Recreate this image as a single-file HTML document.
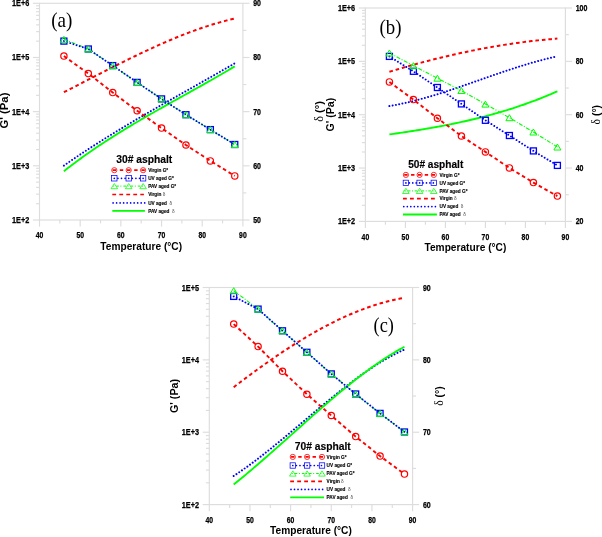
<!DOCTYPE html>
<html><head><meta charset="utf-8"><style>
html,body{margin:0;padding:0;background:#fff;overflow:hidden;}
svg{display:block;will-change:transform;}
</style></head><body>
<svg width="602" height="537" viewBox="0 0 602 537">
<rect width="602" height="537" fill="#fff"/>
<rect x="39.50" y="3.30" width="203.40" height="216.70" fill="none" stroke="#dddddd" stroke-width="1.15"/>
<line x1="32.90" y1="220.00" x2="39.50" y2="220.00" stroke="#dddddd" stroke-width="1.15" />
<line x1="36.10" y1="203.69" x2="39.50" y2="203.69" stroke="#dddddd" stroke-width="1.15" />
<line x1="36.10" y1="194.15" x2="39.50" y2="194.15" stroke="#dddddd" stroke-width="1.15" />
<line x1="36.10" y1="187.38" x2="39.50" y2="187.38" stroke="#dddddd" stroke-width="1.15" />
<line x1="36.10" y1="182.13" x2="39.50" y2="182.13" stroke="#dddddd" stroke-width="1.15" />
<line x1="36.10" y1="177.84" x2="39.50" y2="177.84" stroke="#dddddd" stroke-width="1.15" />
<line x1="36.10" y1="174.22" x2="39.50" y2="174.22" stroke="#dddddd" stroke-width="1.15" />
<line x1="36.10" y1="171.08" x2="39.50" y2="171.08" stroke="#dddddd" stroke-width="1.15" />
<line x1="36.10" y1="168.30" x2="39.50" y2="168.30" stroke="#dddddd" stroke-width="1.15" />
<line x1="32.90" y1="165.82" x2="39.50" y2="165.82" stroke="#dddddd" stroke-width="1.15" />
<line x1="36.10" y1="149.52" x2="39.50" y2="149.52" stroke="#dddddd" stroke-width="1.15" />
<line x1="36.10" y1="139.98" x2="39.50" y2="139.98" stroke="#dddddd" stroke-width="1.15" />
<line x1="36.10" y1="133.21" x2="39.50" y2="133.21" stroke="#dddddd" stroke-width="1.15" />
<line x1="36.10" y1="127.96" x2="39.50" y2="127.96" stroke="#dddddd" stroke-width="1.15" />
<line x1="36.10" y1="123.67" x2="39.50" y2="123.67" stroke="#dddddd" stroke-width="1.15" />
<line x1="36.10" y1="120.04" x2="39.50" y2="120.04" stroke="#dddddd" stroke-width="1.15" />
<line x1="36.10" y1="116.90" x2="39.50" y2="116.90" stroke="#dddddd" stroke-width="1.15" />
<line x1="36.10" y1="114.13" x2="39.50" y2="114.13" stroke="#dddddd" stroke-width="1.15" />
<line x1="32.90" y1="111.65" x2="39.50" y2="111.65" stroke="#dddddd" stroke-width="1.15" />
<line x1="36.10" y1="95.34" x2="39.50" y2="95.34" stroke="#dddddd" stroke-width="1.15" />
<line x1="36.10" y1="85.80" x2="39.50" y2="85.80" stroke="#dddddd" stroke-width="1.15" />
<line x1="36.10" y1="79.03" x2="39.50" y2="79.03" stroke="#dddddd" stroke-width="1.15" />
<line x1="36.10" y1="73.78" x2="39.50" y2="73.78" stroke="#dddddd" stroke-width="1.15" />
<line x1="36.10" y1="69.49" x2="39.50" y2="69.49" stroke="#dddddd" stroke-width="1.15" />
<line x1="36.10" y1="65.87" x2="39.50" y2="65.87" stroke="#dddddd" stroke-width="1.15" />
<line x1="36.10" y1="62.73" x2="39.50" y2="62.73" stroke="#dddddd" stroke-width="1.15" />
<line x1="36.10" y1="59.95" x2="39.50" y2="59.95" stroke="#dddddd" stroke-width="1.15" />
<line x1="32.90" y1="57.48" x2="39.50" y2="57.48" stroke="#dddddd" stroke-width="1.15" />
<line x1="36.10" y1="41.17" x2="39.50" y2="41.17" stroke="#dddddd" stroke-width="1.15" />
<line x1="36.10" y1="31.63" x2="39.50" y2="31.63" stroke="#dddddd" stroke-width="1.15" />
<line x1="36.10" y1="24.86" x2="39.50" y2="24.86" stroke="#dddddd" stroke-width="1.15" />
<line x1="36.10" y1="19.61" x2="39.50" y2="19.61" stroke="#dddddd" stroke-width="1.15" />
<line x1="36.10" y1="15.32" x2="39.50" y2="15.32" stroke="#dddddd" stroke-width="1.15" />
<line x1="36.10" y1="11.69" x2="39.50" y2="11.69" stroke="#dddddd" stroke-width="1.15" />
<line x1="36.10" y1="8.55" x2="39.50" y2="8.55" stroke="#dddddd" stroke-width="1.15" />
<line x1="36.10" y1="5.78" x2="39.50" y2="5.78" stroke="#dddddd" stroke-width="1.15" />
<line x1="32.90" y1="3.30" x2="39.50" y2="3.30" stroke="#dddddd" stroke-width="1.15" />
<line x1="242.90" y1="220.00" x2="249.50" y2="220.00" stroke="#dddddd" stroke-width="1.15" />
<line x1="242.90" y1="192.91" x2="246.30" y2="192.91" stroke="#dddddd" stroke-width="1.15" />
<line x1="242.90" y1="165.82" x2="249.50" y2="165.82" stroke="#dddddd" stroke-width="1.15" />
<line x1="242.90" y1="138.74" x2="246.30" y2="138.74" stroke="#dddddd" stroke-width="1.15" />
<line x1="242.90" y1="111.65" x2="249.50" y2="111.65" stroke="#dddddd" stroke-width="1.15" />
<line x1="242.90" y1="84.56" x2="246.30" y2="84.56" stroke="#dddddd" stroke-width="1.15" />
<line x1="242.90" y1="57.48" x2="249.50" y2="57.48" stroke="#dddddd" stroke-width="1.15" />
<line x1="242.90" y1="30.39" x2="246.30" y2="30.39" stroke="#dddddd" stroke-width="1.15" />
<line x1="242.90" y1="3.30" x2="249.50" y2="3.30" stroke="#dddddd" stroke-width="1.15" />
<line x1="39.50" y1="220.00" x2="39.50" y2="226.60" stroke="#dddddd" stroke-width="1.15" />
<line x1="59.84" y1="220.00" x2="59.84" y2="223.40" stroke="#dddddd" stroke-width="1.15" />
<line x1="80.18" y1="220.00" x2="80.18" y2="226.60" stroke="#dddddd" stroke-width="1.15" />
<line x1="100.52" y1="220.00" x2="100.52" y2="223.40" stroke="#dddddd" stroke-width="1.15" />
<line x1="120.86" y1="220.00" x2="120.86" y2="226.60" stroke="#dddddd" stroke-width="1.15" />
<line x1="141.20" y1="220.00" x2="141.20" y2="223.40" stroke="#dddddd" stroke-width="1.15" />
<line x1="161.54" y1="220.00" x2="161.54" y2="226.60" stroke="#dddddd" stroke-width="1.15" />
<line x1="181.88" y1="220.00" x2="181.88" y2="223.40" stroke="#dddddd" stroke-width="1.15" />
<line x1="202.22" y1="220.00" x2="202.22" y2="226.60" stroke="#dddddd" stroke-width="1.15" />
<line x1="222.56" y1="220.00" x2="222.56" y2="223.40" stroke="#dddddd" stroke-width="1.15" />
<line x1="242.90" y1="220.00" x2="242.90" y2="226.60" stroke="#dddddd" stroke-width="1.15" />
<path d="M63.91,92.22 L66.07,91.11 L68.23,90.00 L70.40,88.89 L72.56,87.78 L74.72,86.67 L76.88,85.55 L79.05,84.44 L81.21,83.32 L83.37,82.21 L85.54,81.09 L87.70,79.98 L89.86,78.86 L92.02,77.75 L94.19,76.63 L96.35,75.52 L98.51,74.41 L100.67,73.30 L102.84,72.19 L105.00,71.09 L107.16,69.98 L109.33,68.88 L111.49,67.79 L113.65,66.69 L115.81,65.60 L117.98,64.52 L120.14,63.43 L122.30,62.35 L124.46,61.28 L126.63,60.21 L128.79,59.15 L130.95,58.09 L133.12,57.04 L135.28,55.99 L137.44,54.95 L139.60,53.91 L141.77,52.88 L143.93,51.86 L146.09,50.85 L148.25,49.84 L150.42,48.84 L152.58,47.85 L154.74,46.86 L156.91,45.89 L159.07,44.92 L161.23,43.96 L163.39,43.01 L165.56,42.08 L167.72,41.15 L169.88,40.23 L172.04,39.32 L174.21,38.42 L176.37,37.53 L178.53,36.65 L180.70,35.78 L182.86,34.93 L185.02,34.08 L187.18,33.25 L189.35,32.43 L191.51,31.63 L193.67,30.83 L195.83,30.05 L198.00,29.28 L200.16,28.53 L202.32,27.79 L204.49,27.06 L206.65,26.35 L208.81,25.65 L210.97,24.97 L213.14,24.30 L215.30,23.65 L217.46,23.01 L219.62,22.39 L221.79,21.78 L223.95,21.19 L226.11,20.62 L228.28,20.06 L230.44,19.52 L232.60,19.00 L234.76,18.50" stroke="#ff0000" stroke-width="2" stroke-dasharray="3.6 2.9" fill="none"/>
<path d="M63.91,165.58 L66.07,164.08 L68.23,162.58 L70.40,161.10 L72.56,159.62 L74.72,158.16 L76.88,156.70 L79.05,155.25 L81.21,153.81 L83.37,152.38 L85.54,150.96 L87.70,149.55 L89.86,148.14 L92.02,146.74 L94.19,145.35 L96.35,143.97 L98.51,142.59 L100.67,141.22 L102.84,139.86 L105.00,138.50 L107.16,137.15 L109.33,135.81 L111.49,134.48 L113.65,133.15 L115.81,131.82 L117.98,130.51 L120.14,129.19 L122.30,127.89 L124.46,126.59 L126.63,125.29 L128.79,124.00 L130.95,122.71 L133.12,121.43 L135.28,120.15 L137.44,118.88 L139.60,117.61 L141.77,116.35 L143.93,115.08 L146.09,113.83 L148.25,112.57 L150.42,111.32 L152.58,110.07 L154.74,108.83 L156.91,107.59 L159.07,106.35 L161.23,105.11 L163.39,103.88 L165.56,102.64 L167.72,101.41 L169.88,100.18 L172.04,98.96 L174.21,97.73 L176.37,96.51 L178.53,95.28 L180.70,94.06 L182.86,92.84 L185.02,91.62 L187.18,90.40 L189.35,89.18 L191.51,87.96 L193.67,86.74 L195.83,85.51 L198.00,84.29 L200.16,83.07 L202.32,81.85 L204.49,80.63 L206.65,79.40 L208.81,78.18 L210.97,76.95 L213.14,75.72 L215.30,74.49 L217.46,73.26 L219.62,72.02 L221.79,70.78 L223.95,69.54 L226.11,68.30 L228.28,67.06 L230.44,65.81 L232.60,64.56 L234.76,63.31" stroke="#0000ff" stroke-width="2" stroke-dasharray="0.01 3.3" stroke-linecap="round" fill="none"/>
<path d="M63.91,171.16 L66.07,169.47 L68.23,167.80 L70.40,166.14 L72.56,164.51 L74.72,162.89 L76.88,161.29 L79.05,159.70 L81.21,158.13 L83.37,156.57 L85.54,155.03 L87.70,153.50 L89.86,151.99 L92.02,150.50 L94.19,149.01 L96.35,147.54 L98.51,146.08 L100.67,144.64 L102.84,143.21 L105.00,141.79 L107.16,140.38 L109.33,138.98 L111.49,137.60 L113.65,136.22 L115.81,134.86 L117.98,133.51 L120.14,132.16 L122.30,130.83 L124.46,129.50 L126.63,128.18 L128.79,126.88 L130.95,125.58 L133.12,124.28 L135.28,123.00 L137.44,121.72 L139.60,120.45 L141.77,119.19 L143.93,117.93 L146.09,116.68 L148.25,115.43 L150.42,114.19 L152.58,112.95 L154.74,111.72 L156.91,110.49 L159.07,109.27 L161.23,108.05 L163.39,106.83 L165.56,105.62 L167.72,104.41 L169.88,103.20 L172.04,101.99 L174.21,100.79 L176.37,99.58 L178.53,98.38 L180.70,97.18 L182.86,95.97 L185.02,94.77 L187.18,93.57 L189.35,92.36 L191.51,91.16 L193.67,89.95 L195.83,88.75 L198.00,87.54 L200.16,86.32 L202.32,85.11 L204.49,83.89 L206.65,82.67 L208.81,81.45 L210.97,80.22 L213.14,78.98 L215.30,77.75 L217.46,76.50 L219.62,75.26 L221.79,74.00 L223.95,72.74 L226.11,71.48 L228.28,70.20 L230.44,68.92 L232.60,67.64 L234.76,66.34" stroke="#00ff00" stroke-width="1.9" fill="none"/>
<path d="M63.91,56.10 L88.32,73.60 L112.72,92.60 L137.13,110.70 L161.54,128.10 L185.95,145.00 L210.36,160.90 L234.76,175.90" stroke="#ff0000" stroke-width="1.9" stroke-dasharray="3.6 2.9" fill="none"/>
<path d="M63.91,39.30 L88.32,49.00 L112.72,65.60 L137.13,82.40 L161.54,98.90 L185.95,114.70 L210.36,129.60 L234.76,144.50" stroke="#00ff00" stroke-width="1.1" stroke-dasharray="4 1.6 1 1.6" fill="none"/>
<path d="M63.91,41.10 L88.32,49.00 L112.72,65.60 L137.13,82.40 L161.54,98.90 L185.95,114.70 L210.36,129.60 L234.76,144.50" stroke="#0000ff" stroke-width="1.9" stroke-dasharray="0.01 3.3" stroke-linecap="round" fill="none"/>
<circle cx="63.91" cy="56.10" r="3.15" fill="none" stroke="#ff0000" stroke-width="1.2"/>
<circle cx="88.32" cy="73.60" r="3.15" fill="none" stroke="#ff0000" stroke-width="1.2"/>
<circle cx="112.72" cy="92.60" r="3.15" fill="none" stroke="#ff0000" stroke-width="1.2"/>
<circle cx="137.13" cy="110.70" r="3.15" fill="none" stroke="#ff0000" stroke-width="1.2"/>
<circle cx="161.54" cy="128.10" r="3.15" fill="none" stroke="#ff0000" stroke-width="1.2"/>
<circle cx="185.95" cy="145.00" r="3.15" fill="none" stroke="#ff0000" stroke-width="1.2"/>
<circle cx="210.36" cy="160.90" r="3.15" fill="none" stroke="#ff0000" stroke-width="1.2"/>
<circle cx="234.76" cy="175.90" r="3.15" fill="none" stroke="#ff0000" stroke-width="1.2"/>
<rect x="60.91" y="38.10" width="6.0" height="6.0" fill="none" stroke="#0000ff" stroke-width="1.3"/>
<rect x="85.32" y="46.00" width="6.0" height="6.0" fill="none" stroke="#0000ff" stroke-width="1.3"/>
<rect x="109.72" y="62.60" width="6.0" height="6.0" fill="none" stroke="#0000ff" stroke-width="1.3"/>
<rect x="134.13" y="79.40" width="6.0" height="6.0" fill="none" stroke="#0000ff" stroke-width="1.3"/>
<rect x="158.54" y="95.90" width="6.0" height="6.0" fill="none" stroke="#0000ff" stroke-width="1.3"/>
<rect x="182.95" y="111.70" width="6.0" height="6.0" fill="none" stroke="#0000ff" stroke-width="1.3"/>
<rect x="207.36" y="126.60" width="6.0" height="6.0" fill="none" stroke="#0000ff" stroke-width="1.3"/>
<rect x="231.76" y="141.50" width="6.0" height="6.0" fill="none" stroke="#0000ff" stroke-width="1.3"/>
<path d="M63.91,36.30 L67.41,42.30 L60.41,42.30 Z" fill="none" stroke="#00ff00" stroke-width="1.0"/>
<path d="M88.32,46.00 L91.82,52.00 L84.82,52.00 Z" fill="none" stroke="#00ff00" stroke-width="1.0"/>
<path d="M112.72,62.60 L116.22,68.60 L109.22,68.60 Z" fill="none" stroke="#00ff00" stroke-width="1.0"/>
<path d="M137.13,79.40 L140.63,85.40 L133.63,85.40 Z" fill="none" stroke="#00ff00" stroke-width="1.0"/>
<path d="M161.54,95.90 L165.04,101.90 L158.04,101.90 Z" fill="none" stroke="#00ff00" stroke-width="1.0"/>
<path d="M185.95,111.70 L189.45,117.70 L182.45,117.70 Z" fill="none" stroke="#00ff00" stroke-width="1.0"/>
<path d="M210.36,126.60 L213.86,132.60 L206.86,132.60 Z" fill="none" stroke="#00ff00" stroke-width="1.0"/>
<path d="M234.76,141.50 L238.26,147.50 L231.26,147.50 Z" fill="none" stroke="#00ff00" stroke-width="1.0"/>
<text x="116.20" y="162.60" font-family="Liberation Sans" font-size="10.3" font-weight="bold" text-anchor="start" fill="#000" stroke="#000" stroke-width="0.15" textLength="56.10" lengthAdjust="spacingAndGlyphs" >30# asphalt</text>
<line x1="112.30" y1="170.20" x2="145.10" y2="170.20" stroke="#ff0000" stroke-width="1.7" stroke-dasharray="3.4 3.80" stroke-dashoffset="-0.30"/>
<circle cx="114.30" cy="170.20" r="2.6" fill="none" stroke="#ff0000" stroke-width="0.8"/>
<circle cx="128.70" cy="170.20" r="2.6" fill="none" stroke="#ff0000" stroke-width="0.8"/>
<circle cx="143.10" cy="170.20" r="2.6" fill="none" stroke="#ff0000" stroke-width="0.8"/>
<text x="148.20" y="171.90" font-family="Liberation Sans" font-size="4.7" font-weight="bold" text-anchor="start" fill="#000" stroke="#000" stroke-width="0.12" >Virgin G*</text>
<line x1="112.90" y1="178.30" x2="145.10" y2="178.30" stroke="#0000ff" stroke-width="1.7" stroke-linecap="round" stroke-dasharray="0.01 3.59" stroke-dashoffset="2.20"/>
<rect x="111.60" y="175.60" width="5.4" height="5.4" fill="none" stroke="#0000ff" stroke-width="0.75"/>
<rect x="126.00" y="175.60" width="5.4" height="5.4" fill="none" stroke="#0000ff" stroke-width="0.75"/>
<rect x="140.40" y="175.60" width="5.4" height="5.4" fill="none" stroke="#0000ff" stroke-width="0.75"/>
<text x="148.20" y="180.00" font-family="Liberation Sans" font-size="4.7" font-weight="bold" text-anchor="start" fill="#000" stroke="#000" stroke-width="0.12" >UV aged G*</text>
<line x1="112.30" y1="186.10" x2="145.10" y2="186.10" stroke="#00ff00" stroke-width="1.0" stroke-dasharray="2.6 1.6 1 2.00" stroke-dashoffset="-3.90"/>
<path d="M114.30,183.50 L117.60,188.70 L111.00,188.70 Z" fill="none" stroke="#00ff00" stroke-width="0.75"/>
<path d="M128.70,183.50 L132.00,188.70 L125.40,188.70 Z" fill="none" stroke="#00ff00" stroke-width="0.75"/>
<path d="M143.10,183.50 L146.40,188.70 L139.80,188.70 Z" fill="none" stroke="#00ff00" stroke-width="0.75"/>
<text x="148.20" y="187.80" font-family="Liberation Sans" font-size="4.7" font-weight="bold" text-anchor="start" fill="#000" stroke="#000" stroke-width="0.12" >PAV aged G*</text>
<line x1="112.30" y1="194.50" x2="143.90" y2="194.50" stroke="#ff0000" stroke-width="1.7" stroke-dasharray="3.8 3.2"/>
<text x="148.20" y="196.20" font-family="Liberation Sans" font-size="4.7" font-weight="bold" stroke="#000" stroke-width="0.12">Virgin <tspan font-weight="normal" fill="#444" stroke="none">δ</tspan></text>
<line x1="113.10" y1="202.90" x2="144.90" y2="202.90" stroke="#0000ff" stroke-width="1.7" stroke-linecap="round" stroke-dasharray="0.01 3.5"/>
<text x="148.20" y="204.60" font-family="Liberation Sans" font-size="4.7" font-weight="bold" stroke="#000" stroke-width="0.12">UV aged  <tspan font-weight="normal" fill="#444" stroke="none">δ</tspan></text>
<line x1="112.30" y1="210.90" x2="144.90" y2="210.90" stroke="#00ff00" stroke-width="1.8"/>
<text x="148.20" y="212.60" font-family="Liberation Sans" font-size="4.7" font-weight="bold" stroke="#000" stroke-width="0.12">PAV aged  <tspan font-weight="normal" fill="#444" stroke="none">δ</tspan></text>
<text x="29.20" y="223.00" font-family="Liberation Sans" font-size="8.4" font-weight="bold" text-anchor="end" fill="#000" stroke="#000" stroke-width="0.25" textLength="17.20" lengthAdjust="spacingAndGlyphs" >1E+2</text>
<text x="29.20" y="168.82" font-family="Liberation Sans" font-size="8.4" font-weight="bold" text-anchor="end" fill="#000" stroke="#000" stroke-width="0.25" textLength="17.20" lengthAdjust="spacingAndGlyphs" >1E+3</text>
<text x="29.20" y="114.65" font-family="Liberation Sans" font-size="8.4" font-weight="bold" text-anchor="end" fill="#000" stroke="#000" stroke-width="0.25" textLength="17.20" lengthAdjust="spacingAndGlyphs" >1E+4</text>
<text x="29.20" y="60.48" font-family="Liberation Sans" font-size="8.4" font-weight="bold" text-anchor="end" fill="#000" stroke="#000" stroke-width="0.25" textLength="17.20" lengthAdjust="spacingAndGlyphs" >1E+5</text>
<text x="29.20" y="6.30" font-family="Liberation Sans" font-size="8.4" font-weight="bold" text-anchor="end" fill="#000" stroke="#000" stroke-width="0.25" textLength="17.20" lengthAdjust="spacingAndGlyphs" >1E+6</text>
<text x="253.20" y="223.00" font-family="Liberation Sans" font-size="8.4" font-weight="bold" text-anchor="start" fill="#000" stroke="#000" stroke-width="0.25" textLength="7.80" lengthAdjust="spacingAndGlyphs" >50</text>
<text x="253.20" y="168.82" font-family="Liberation Sans" font-size="8.4" font-weight="bold" text-anchor="start" fill="#000" stroke="#000" stroke-width="0.25" textLength="7.80" lengthAdjust="spacingAndGlyphs" >60</text>
<text x="253.20" y="114.65" font-family="Liberation Sans" font-size="8.4" font-weight="bold" text-anchor="start" fill="#000" stroke="#000" stroke-width="0.25" textLength="7.80" lengthAdjust="spacingAndGlyphs" >70</text>
<text x="253.20" y="60.48" font-family="Liberation Sans" font-size="8.4" font-weight="bold" text-anchor="start" fill="#000" stroke="#000" stroke-width="0.25" textLength="7.80" lengthAdjust="spacingAndGlyphs" >80</text>
<text x="253.20" y="6.30" font-family="Liberation Sans" font-size="8.4" font-weight="bold" text-anchor="start" fill="#000" stroke="#000" stroke-width="0.25" textLength="7.80" lengthAdjust="spacingAndGlyphs" >90</text>
<text x="39.50" y="238.10" font-family="Liberation Sans" font-size="8.4" font-weight="bold" text-anchor="middle" fill="#000" stroke="#000" stroke-width="0.25" textLength="7.60" lengthAdjust="spacingAndGlyphs" >40</text>
<text x="80.18" y="238.10" font-family="Liberation Sans" font-size="8.4" font-weight="bold" text-anchor="middle" fill="#000" stroke="#000" stroke-width="0.25" textLength="7.60" lengthAdjust="spacingAndGlyphs" >50</text>
<text x="120.86" y="238.10" font-family="Liberation Sans" font-size="8.4" font-weight="bold" text-anchor="middle" fill="#000" stroke="#000" stroke-width="0.25" textLength="7.60" lengthAdjust="spacingAndGlyphs" >60</text>
<text x="161.54" y="238.10" font-family="Liberation Sans" font-size="8.4" font-weight="bold" text-anchor="middle" fill="#000" stroke="#000" stroke-width="0.25" textLength="7.60" lengthAdjust="spacingAndGlyphs" >70</text>
<text x="202.22" y="238.10" font-family="Liberation Sans" font-size="8.4" font-weight="bold" text-anchor="middle" fill="#000" stroke="#000" stroke-width="0.25" textLength="7.60" lengthAdjust="spacingAndGlyphs" >80</text>
<text x="242.90" y="238.10" font-family="Liberation Sans" font-size="8.4" font-weight="bold" text-anchor="middle" fill="#000" stroke="#000" stroke-width="0.25" textLength="7.60" lengthAdjust="spacingAndGlyphs" >90</text>
<text x="141.20" y="249.80" font-family="Liberation Sans" font-size="10.4" font-weight="bold" text-anchor="middle" fill="#000" textLength="81.80" lengthAdjust="spacingAndGlyphs" >Temperature (°C)</text>
<text transform="translate(7.90,110.60) rotate(-90)" x="0" y="0" font-family="Liberation Sans" font-size="10.5" font-weight="bold" text-anchor="middle" textLength="36.00" lengthAdjust="spacingAndGlyphs">G' (Pa)</text>
<text x="51.20" y="27.20" font-family="Liberation Serif" font-size="21" font-weight="normal" text-anchor="start" fill="#000" textLength="21.20" lengthAdjust="spacingAndGlyphs" >(a)</text>
<rect x="365.40" y="8.00" width="200.00" height="213.40" fill="none" stroke="#dddddd" stroke-width="1.15"/>
<line x1="358.80" y1="221.40" x2="365.40" y2="221.40" stroke="#dddddd" stroke-width="1.15" />
<line x1="362.00" y1="205.34" x2="365.40" y2="205.34" stroke="#dddddd" stroke-width="1.15" />
<line x1="362.00" y1="195.95" x2="365.40" y2="195.95" stroke="#dddddd" stroke-width="1.15" />
<line x1="362.00" y1="189.28" x2="365.40" y2="189.28" stroke="#dddddd" stroke-width="1.15" />
<line x1="362.00" y1="184.11" x2="365.40" y2="184.11" stroke="#dddddd" stroke-width="1.15" />
<line x1="362.00" y1="179.89" x2="365.40" y2="179.89" stroke="#dddddd" stroke-width="1.15" />
<line x1="362.00" y1="176.31" x2="365.40" y2="176.31" stroke="#dddddd" stroke-width="1.15" />
<line x1="362.00" y1="173.22" x2="365.40" y2="173.22" stroke="#dddddd" stroke-width="1.15" />
<line x1="362.00" y1="170.49" x2="365.40" y2="170.49" stroke="#dddddd" stroke-width="1.15" />
<line x1="358.80" y1="168.05" x2="365.40" y2="168.05" stroke="#dddddd" stroke-width="1.15" />
<line x1="362.00" y1="151.99" x2="365.40" y2="151.99" stroke="#dddddd" stroke-width="1.15" />
<line x1="362.00" y1="142.60" x2="365.40" y2="142.60" stroke="#dddddd" stroke-width="1.15" />
<line x1="362.00" y1="135.93" x2="365.40" y2="135.93" stroke="#dddddd" stroke-width="1.15" />
<line x1="362.00" y1="130.76" x2="365.40" y2="130.76" stroke="#dddddd" stroke-width="1.15" />
<line x1="362.00" y1="126.54" x2="365.40" y2="126.54" stroke="#dddddd" stroke-width="1.15" />
<line x1="362.00" y1="122.96" x2="365.40" y2="122.96" stroke="#dddddd" stroke-width="1.15" />
<line x1="362.00" y1="119.87" x2="365.40" y2="119.87" stroke="#dddddd" stroke-width="1.15" />
<line x1="362.00" y1="117.14" x2="365.40" y2="117.14" stroke="#dddddd" stroke-width="1.15" />
<line x1="358.80" y1="114.70" x2="365.40" y2="114.70" stroke="#dddddd" stroke-width="1.15" />
<line x1="362.00" y1="98.64" x2="365.40" y2="98.64" stroke="#dddddd" stroke-width="1.15" />
<line x1="362.00" y1="89.25" x2="365.40" y2="89.25" stroke="#dddddd" stroke-width="1.15" />
<line x1="362.00" y1="82.58" x2="365.40" y2="82.58" stroke="#dddddd" stroke-width="1.15" />
<line x1="362.00" y1="77.41" x2="365.40" y2="77.41" stroke="#dddddd" stroke-width="1.15" />
<line x1="362.00" y1="73.19" x2="365.40" y2="73.19" stroke="#dddddd" stroke-width="1.15" />
<line x1="362.00" y1="69.61" x2="365.40" y2="69.61" stroke="#dddddd" stroke-width="1.15" />
<line x1="362.00" y1="66.52" x2="365.40" y2="66.52" stroke="#dddddd" stroke-width="1.15" />
<line x1="362.00" y1="63.79" x2="365.40" y2="63.79" stroke="#dddddd" stroke-width="1.15" />
<line x1="358.80" y1="61.35" x2="365.40" y2="61.35" stroke="#dddddd" stroke-width="1.15" />
<line x1="362.00" y1="45.29" x2="365.40" y2="45.29" stroke="#dddddd" stroke-width="1.15" />
<line x1="362.00" y1="35.90" x2="365.40" y2="35.90" stroke="#dddddd" stroke-width="1.15" />
<line x1="362.00" y1="29.23" x2="365.40" y2="29.23" stroke="#dddddd" stroke-width="1.15" />
<line x1="362.00" y1="24.06" x2="365.40" y2="24.06" stroke="#dddddd" stroke-width="1.15" />
<line x1="362.00" y1="19.84" x2="365.40" y2="19.84" stroke="#dddddd" stroke-width="1.15" />
<line x1="362.00" y1="16.26" x2="365.40" y2="16.26" stroke="#dddddd" stroke-width="1.15" />
<line x1="362.00" y1="13.17" x2="365.40" y2="13.17" stroke="#dddddd" stroke-width="1.15" />
<line x1="362.00" y1="10.44" x2="365.40" y2="10.44" stroke="#dddddd" stroke-width="1.15" />
<line x1="358.80" y1="8.00" x2="365.40" y2="8.00" stroke="#dddddd" stroke-width="1.15" />
<line x1="565.40" y1="221.40" x2="572.00" y2="221.40" stroke="#dddddd" stroke-width="1.15" />
<line x1="565.40" y1="194.72" x2="568.80" y2="194.72" stroke="#dddddd" stroke-width="1.15" />
<line x1="565.40" y1="168.05" x2="572.00" y2="168.05" stroke="#dddddd" stroke-width="1.15" />
<line x1="565.40" y1="141.38" x2="568.80" y2="141.38" stroke="#dddddd" stroke-width="1.15" />
<line x1="565.40" y1="114.70" x2="572.00" y2="114.70" stroke="#dddddd" stroke-width="1.15" />
<line x1="565.40" y1="88.03" x2="568.80" y2="88.03" stroke="#dddddd" stroke-width="1.15" />
<line x1="565.40" y1="61.35" x2="572.00" y2="61.35" stroke="#dddddd" stroke-width="1.15" />
<line x1="565.40" y1="34.68" x2="568.80" y2="34.68" stroke="#dddddd" stroke-width="1.15" />
<line x1="565.40" y1="8.00" x2="572.00" y2="8.00" stroke="#dddddd" stroke-width="1.15" />
<line x1="365.40" y1="221.40" x2="365.40" y2="228.00" stroke="#dddddd" stroke-width="1.15" />
<line x1="385.40" y1="221.40" x2="385.40" y2="224.80" stroke="#dddddd" stroke-width="1.15" />
<line x1="405.40" y1="221.40" x2="405.40" y2="228.00" stroke="#dddddd" stroke-width="1.15" />
<line x1="425.40" y1="221.40" x2="425.40" y2="224.80" stroke="#dddddd" stroke-width="1.15" />
<line x1="445.40" y1="221.40" x2="445.40" y2="228.00" stroke="#dddddd" stroke-width="1.15" />
<line x1="465.40" y1="221.40" x2="465.40" y2="224.80" stroke="#dddddd" stroke-width="1.15" />
<line x1="485.40" y1="221.40" x2="485.40" y2="228.00" stroke="#dddddd" stroke-width="1.15" />
<line x1="505.40" y1="221.40" x2="505.40" y2="224.80" stroke="#dddddd" stroke-width="1.15" />
<line x1="525.40" y1="221.40" x2="525.40" y2="228.00" stroke="#dddddd" stroke-width="1.15" />
<line x1="545.40" y1="221.40" x2="545.40" y2="224.80" stroke="#dddddd" stroke-width="1.15" />
<line x1="565.40" y1="221.40" x2="565.40" y2="228.00" stroke="#dddddd" stroke-width="1.15" />
<path d="M389.40,71.78 L391.53,71.13 L393.65,70.49 L395.78,69.85 L397.91,69.22 L400.03,68.59 L402.16,67.97 L404.29,67.36 L406.41,66.75 L408.54,66.14 L410.67,65.54 L412.79,64.95 L414.92,64.36 L417.05,63.78 L419.17,63.20 L421.30,62.63 L423.43,62.06 L425.55,61.50 L427.68,60.94 L429.81,60.39 L431.93,59.85 L434.06,59.31 L436.18,58.78 L438.31,58.25 L440.44,57.73 L442.56,57.21 L444.69,56.70 L446.82,56.20 L448.94,55.70 L451.07,55.21 L453.20,54.72 L455.32,54.24 L457.45,53.76 L459.58,53.29 L461.70,52.83 L463.83,52.37 L465.96,51.92 L468.08,51.48 L470.21,51.04 L472.34,50.61 L474.46,50.18 L476.59,49.76 L478.72,49.35 L480.84,48.94 L482.97,48.54 L485.10,48.14 L487.22,47.75 L489.35,47.37 L491.48,46.99 L493.60,46.62 L495.73,46.26 L497.86,45.90 L499.98,45.55 L502.11,45.20 L504.24,44.87 L506.36,44.53 L508.49,44.21 L510.62,43.89 L512.74,43.58 L514.87,43.28 L516.99,42.98 L519.12,42.69 L521.25,42.40 L523.37,42.12 L525.50,41.85 L527.63,41.59 L529.75,41.33 L531.88,41.08 L534.01,40.83 L536.13,40.60 L538.26,40.37 L540.39,40.14 L542.51,39.93 L544.64,39.72 L546.77,39.52 L548.89,39.32 L551.02,39.13 L553.15,38.95 L555.27,38.78 L557.40,38.61" stroke="#ff0000" stroke-width="2" stroke-dasharray="3.6 2.9" fill="none"/>
<path d="M389.40,106.08 L391.53,105.72 L393.65,105.34 L395.78,104.95 L397.91,104.53 L400.03,104.10 L402.16,103.65 L404.29,103.19 L406.41,102.71 L408.54,102.22 L410.67,101.71 L412.79,101.18 L414.92,100.65 L417.05,100.10 L419.17,99.53 L421.30,98.96 L423.43,98.37 L425.55,97.77 L427.68,97.16 L429.81,96.54 L431.93,95.91 L434.06,95.27 L436.18,94.62 L438.31,93.96 L440.44,93.29 L442.56,92.62 L444.69,91.93 L446.82,91.24 L448.94,90.55 L451.07,89.84 L453.20,89.13 L455.32,88.42 L457.45,87.70 L459.58,86.97 L461.70,86.25 L463.83,85.51 L465.96,84.78 L468.08,84.04 L470.21,83.30 L472.34,82.56 L474.46,81.81 L476.59,81.07 L478.72,80.32 L480.84,79.58 L482.97,78.83 L485.10,78.09 L487.22,77.34 L489.35,76.60 L491.48,75.86 L493.60,75.13 L495.73,74.39 L497.86,73.66 L499.98,72.93 L502.11,72.21 L504.24,71.49 L506.36,70.78 L508.49,70.07 L510.62,69.37 L512.74,68.68 L514.87,67.99 L516.99,67.31 L519.12,66.64 L521.25,65.97 L523.37,65.32 L525.50,64.67 L527.63,64.03 L529.75,63.41 L531.88,62.79 L534.01,62.18 L536.13,61.59 L538.26,61.00 L540.39,60.43 L542.51,59.88 L544.64,59.33 L546.77,58.80 L548.89,58.28 L551.02,57.78 L553.15,57.29 L555.27,56.82 L557.40,56.36" stroke="#0000ff" stroke-width="2" stroke-dasharray="0.01 3.3" stroke-linecap="round" fill="none"/>
<path d="M389.40,134.42 L391.53,134.12 L393.65,133.82 L395.78,133.52 L397.91,133.21 L400.03,132.90 L402.16,132.59 L404.29,132.28 L406.41,131.96 L408.54,131.63 L410.67,131.30 L412.79,130.97 L414.92,130.64 L417.05,130.30 L419.17,129.95 L421.30,129.61 L423.43,129.25 L425.55,128.89 L427.68,128.53 L429.81,128.16 L431.93,127.79 L434.06,127.41 L436.18,127.03 L438.31,126.64 L440.44,126.24 L442.56,125.84 L444.69,125.43 L446.82,125.02 L448.94,124.60 L451.07,124.17 L453.20,123.74 L455.32,123.30 L457.45,122.85 L459.58,122.39 L461.70,121.93 L463.83,121.46 L465.96,120.99 L468.08,120.50 L470.21,120.01 L472.34,119.51 L474.46,119.00 L476.59,118.48 L478.72,117.96 L480.84,117.42 L482.97,116.88 L485.10,116.33 L487.22,115.77 L489.35,115.20 L491.48,114.62 L493.60,114.03 L495.73,113.44 L497.86,112.83 L499.98,112.21 L502.11,111.58 L504.24,110.94 L506.36,110.30 L508.49,109.64 L510.62,108.97 L512.74,108.29 L514.87,107.60 L516.99,106.90 L519.12,106.18 L521.25,105.46 L523.37,104.73 L525.50,103.98 L527.63,103.22 L529.75,102.45 L531.88,101.67 L534.01,100.87 L536.13,100.06 L538.26,99.24 L540.39,98.41 L542.51,97.57 L544.64,96.71 L546.77,95.84 L548.89,94.95 L551.02,94.06 L553.15,93.14 L555.27,92.22 L557.40,91.28" stroke="#00ff00" stroke-width="1.9" fill="none"/>
<path d="M389.40,81.90 L413.40,99.60 L437.40,118.20 L461.40,136.00 L485.40,151.90 L509.40,167.90 L533.40,182.60 L557.40,196.10" stroke="#ff0000" stroke-width="1.9" stroke-dasharray="3.6 2.9" fill="none"/>
<path d="M389.40,53.00 L413.40,65.70 L437.40,78.20 L461.40,90.50 L485.40,104.10 L509.40,117.70 L533.40,132.00 L557.40,147.00" stroke="#00ff00" stroke-width="1.1" stroke-dasharray="4 1.6 1 1.6" fill="none"/>
<path d="M389.40,56.40 L413.40,71.30 L437.40,87.50 L461.40,103.90 L485.40,120.30 L509.40,135.50 L533.40,150.90 L557.40,165.40" stroke="#0000ff" stroke-width="1.9" stroke-dasharray="0.01 3.3" stroke-linecap="round" fill="none"/>
<circle cx="389.40" cy="81.90" r="3.15" fill="none" stroke="#ff0000" stroke-width="1.2"/>
<circle cx="413.40" cy="99.60" r="3.15" fill="none" stroke="#ff0000" stroke-width="1.2"/>
<circle cx="437.40" cy="118.20" r="3.15" fill="none" stroke="#ff0000" stroke-width="1.2"/>
<circle cx="461.40" cy="136.00" r="3.15" fill="none" stroke="#ff0000" stroke-width="1.2"/>
<circle cx="485.40" cy="151.90" r="3.15" fill="none" stroke="#ff0000" stroke-width="1.2"/>
<circle cx="509.40" cy="167.90" r="3.15" fill="none" stroke="#ff0000" stroke-width="1.2"/>
<circle cx="533.40" cy="182.60" r="3.15" fill="none" stroke="#ff0000" stroke-width="1.2"/>
<circle cx="557.40" cy="196.10" r="3.15" fill="none" stroke="#ff0000" stroke-width="1.2"/>
<rect x="386.40" y="53.40" width="6.0" height="6.0" fill="none" stroke="#0000ff" stroke-width="1.3"/>
<rect x="410.40" y="68.30" width="6.0" height="6.0" fill="none" stroke="#0000ff" stroke-width="1.3"/>
<rect x="434.40" y="84.50" width="6.0" height="6.0" fill="none" stroke="#0000ff" stroke-width="1.3"/>
<rect x="458.40" y="100.90" width="6.0" height="6.0" fill="none" stroke="#0000ff" stroke-width="1.3"/>
<rect x="482.40" y="117.30" width="6.0" height="6.0" fill="none" stroke="#0000ff" stroke-width="1.3"/>
<rect x="506.40" y="132.50" width="6.0" height="6.0" fill="none" stroke="#0000ff" stroke-width="1.3"/>
<rect x="530.40" y="147.90" width="6.0" height="6.0" fill="none" stroke="#0000ff" stroke-width="1.3"/>
<rect x="554.40" y="162.40" width="6.0" height="6.0" fill="none" stroke="#0000ff" stroke-width="1.3"/>
<path d="M389.40,50.00 L392.90,56.00 L385.90,56.00 Z" fill="none" stroke="#00ff00" stroke-width="1.0"/>
<path d="M413.40,62.70 L416.90,68.70 L409.90,68.70 Z" fill="none" stroke="#00ff00" stroke-width="1.0"/>
<path d="M437.40,75.20 L440.90,81.20 L433.90,81.20 Z" fill="none" stroke="#00ff00" stroke-width="1.0"/>
<path d="M461.40,87.50 L464.90,93.50 L457.90,93.50 Z" fill="none" stroke="#00ff00" stroke-width="1.0"/>
<path d="M485.40,101.10 L488.90,107.10 L481.90,107.10 Z" fill="none" stroke="#00ff00" stroke-width="1.0"/>
<path d="M509.40,114.70 L512.90,120.70 L505.90,120.70 Z" fill="none" stroke="#00ff00" stroke-width="1.0"/>
<path d="M533.40,129.00 L536.90,135.00 L529.90,135.00 Z" fill="none" stroke="#00ff00" stroke-width="1.0"/>
<path d="M557.40,144.00 L560.90,150.00 L553.90,150.00 Z" fill="none" stroke="#00ff00" stroke-width="1.0"/>
<text x="408.20" y="167.60" font-family="Liberation Sans" font-size="10.3" font-weight="bold" text-anchor="start" fill="#000" stroke="#000" stroke-width="0.15" textLength="55.10" lengthAdjust="spacingAndGlyphs" >50# asphalt</text>
<line x1="403.00" y1="174.90" x2="435.80" y2="174.90" stroke="#ff0000" stroke-width="1.7" stroke-dasharray="3.4 3.45" stroke-dashoffset="-1.20"/>
<circle cx="405.90" cy="174.90" r="2.6" fill="none" stroke="#ff0000" stroke-width="0.8"/>
<circle cx="419.60" cy="174.90" r="2.6" fill="none" stroke="#ff0000" stroke-width="0.8"/>
<circle cx="433.80" cy="174.90" r="2.6" fill="none" stroke="#ff0000" stroke-width="0.8"/>
<text x="439.50" y="176.60" font-family="Liberation Sans" font-size="4.7" font-weight="bold" text-anchor="start" fill="#000" stroke="#000" stroke-width="0.12" >Virgin G*</text>
<line x1="403.60" y1="182.90" x2="435.80" y2="182.90" stroke="#0000ff" stroke-width="1.7" stroke-linecap="round" stroke-dasharray="0.01 3.42" stroke-dashoffset="1.13"/>
<rect x="403.20" y="180.20" width="5.4" height="5.4" fill="none" stroke="#0000ff" stroke-width="0.75"/>
<rect x="416.90" y="180.20" width="5.4" height="5.4" fill="none" stroke="#0000ff" stroke-width="0.75"/>
<rect x="431.10" y="180.20" width="5.4" height="5.4" fill="none" stroke="#0000ff" stroke-width="0.75"/>
<text x="439.50" y="184.60" font-family="Liberation Sans" font-size="4.7" font-weight="bold" text-anchor="start" fill="#000" stroke="#000" stroke-width="0.12" >UV aged G*</text>
<line x1="403.00" y1="190.90" x2="435.80" y2="190.90" stroke="#00ff00" stroke-width="1.0" stroke-dasharray="2.6 1.6 1 1.65" stroke-dashoffset="-4.80"/>
<path d="M405.90,188.30 L409.20,193.50 L402.60,193.50 Z" fill="none" stroke="#00ff00" stroke-width="0.75"/>
<path d="M419.60,188.30 L422.90,193.50 L416.30,193.50 Z" fill="none" stroke="#00ff00" stroke-width="0.75"/>
<path d="M433.80,188.30 L437.10,193.50 L430.50,193.50 Z" fill="none" stroke="#00ff00" stroke-width="0.75"/>
<text x="439.50" y="192.60" font-family="Liberation Sans" font-size="4.7" font-weight="bold" text-anchor="start" fill="#000" stroke="#000" stroke-width="0.12" >PAV aged G*</text>
<line x1="403.00" y1="198.60" x2="435.90" y2="198.60" stroke="#ff0000" stroke-width="1.7" stroke-dasharray="3.8 3.2"/>
<text x="439.50" y="200.30" font-family="Liberation Sans" font-size="4.7" font-weight="bold" stroke="#000" stroke-width="0.12">Virgin <tspan font-weight="normal" fill="#444" stroke="none">δ</tspan></text>
<line x1="403.80" y1="206.60" x2="436.90" y2="206.60" stroke="#0000ff" stroke-width="1.7" stroke-linecap="round" stroke-dasharray="0.01 3.5"/>
<text x="439.50" y="208.30" font-family="Liberation Sans" font-size="4.7" font-weight="bold" stroke="#000" stroke-width="0.12">UV aged  <tspan font-weight="normal" fill="#444" stroke="none">δ</tspan></text>
<line x1="403.00" y1="214.50" x2="436.90" y2="214.50" stroke="#00ff00" stroke-width="1.8"/>
<text x="439.50" y="216.20" font-family="Liberation Sans" font-size="4.7" font-weight="bold" stroke="#000" stroke-width="0.12">PAV aged  <tspan font-weight="normal" fill="#444" stroke="none">δ</tspan></text>
<text x="355.10" y="224.40" font-family="Liberation Sans" font-size="8.4" font-weight="bold" text-anchor="end" fill="#000" stroke="#000" stroke-width="0.25" textLength="17.20" lengthAdjust="spacingAndGlyphs" >1E+2</text>
<text x="355.10" y="171.05" font-family="Liberation Sans" font-size="8.4" font-weight="bold" text-anchor="end" fill="#000" stroke="#000" stroke-width="0.25" textLength="17.20" lengthAdjust="spacingAndGlyphs" >1E+3</text>
<text x="355.10" y="117.70" font-family="Liberation Sans" font-size="8.4" font-weight="bold" text-anchor="end" fill="#000" stroke="#000" stroke-width="0.25" textLength="17.20" lengthAdjust="spacingAndGlyphs" >1E+4</text>
<text x="355.10" y="64.35" font-family="Liberation Sans" font-size="8.4" font-weight="bold" text-anchor="end" fill="#000" stroke="#000" stroke-width="0.25" textLength="17.20" lengthAdjust="spacingAndGlyphs" >1E+5</text>
<text x="355.10" y="11.00" font-family="Liberation Sans" font-size="8.4" font-weight="bold" text-anchor="end" fill="#000" stroke="#000" stroke-width="0.25" textLength="17.20" lengthAdjust="spacingAndGlyphs" >1E+6</text>
<text x="575.70" y="224.40" font-family="Liberation Sans" font-size="8.4" font-weight="bold" text-anchor="start" fill="#000" stroke="#000" stroke-width="0.25" textLength="7.80" lengthAdjust="spacingAndGlyphs" >20</text>
<text x="575.70" y="171.05" font-family="Liberation Sans" font-size="8.4" font-weight="bold" text-anchor="start" fill="#000" stroke="#000" stroke-width="0.25" textLength="7.80" lengthAdjust="spacingAndGlyphs" >40</text>
<text x="575.70" y="117.70" font-family="Liberation Sans" font-size="8.4" font-weight="bold" text-anchor="start" fill="#000" stroke="#000" stroke-width="0.25" textLength="7.80" lengthAdjust="spacingAndGlyphs" >60</text>
<text x="575.70" y="64.35" font-family="Liberation Sans" font-size="8.4" font-weight="bold" text-anchor="start" fill="#000" stroke="#000" stroke-width="0.25" textLength="7.80" lengthAdjust="spacingAndGlyphs" >80</text>
<text x="575.70" y="11.00" font-family="Liberation Sans" font-size="8.4" font-weight="bold" text-anchor="start" fill="#000" stroke="#000" stroke-width="0.25" textLength="11.70" lengthAdjust="spacingAndGlyphs" >100</text>
<text x="365.40" y="239.50" font-family="Liberation Sans" font-size="8.4" font-weight="bold" text-anchor="middle" fill="#000" stroke="#000" stroke-width="0.25" textLength="7.60" lengthAdjust="spacingAndGlyphs" >40</text>
<text x="405.40" y="239.50" font-family="Liberation Sans" font-size="8.4" font-weight="bold" text-anchor="middle" fill="#000" stroke="#000" stroke-width="0.25" textLength="7.60" lengthAdjust="spacingAndGlyphs" >50</text>
<text x="445.40" y="239.50" font-family="Liberation Sans" font-size="8.4" font-weight="bold" text-anchor="middle" fill="#000" stroke="#000" stroke-width="0.25" textLength="7.60" lengthAdjust="spacingAndGlyphs" >60</text>
<text x="485.40" y="239.50" font-family="Liberation Sans" font-size="8.4" font-weight="bold" text-anchor="middle" fill="#000" stroke="#000" stroke-width="0.25" textLength="7.60" lengthAdjust="spacingAndGlyphs" >70</text>
<text x="525.40" y="239.50" font-family="Liberation Sans" font-size="8.4" font-weight="bold" text-anchor="middle" fill="#000" stroke="#000" stroke-width="0.25" textLength="7.60" lengthAdjust="spacingAndGlyphs" >80</text>
<text x="565.40" y="239.50" font-family="Liberation Sans" font-size="8.4" font-weight="bold" text-anchor="middle" fill="#000" stroke="#000" stroke-width="0.25" textLength="7.60" lengthAdjust="spacingAndGlyphs" >90</text>
<text x="465.40" y="251.20" font-family="Liberation Sans" font-size="10.4" font-weight="bold" text-anchor="middle" fill="#000" textLength="81.80" lengthAdjust="spacingAndGlyphs" >Temperature (°C)</text>
<text transform="translate(334.40,114.60) rotate(-90)" x="0" y="0" font-family="Liberation Sans" font-size="10.5" font-weight="bold" text-anchor="middle" textLength="33.60" lengthAdjust="spacingAndGlyphs">G' (Pa)</text>
<text transform="translate(322.70,111.50) rotate(-90)" x="0" y="0" font-family="Liberation Sans" font-size="10.5" font-weight="bold" text-anchor="middle" textLength="20.70" lengthAdjust="spacingAndGlyphs"><tspan font-weight="normal" font-family="Liberation Serif" font-size="11.5">δ</tspan> (°)</text>
<text transform="translate(599.80,114.65) rotate(-90)" x="0" y="0" font-family="Liberation Sans" font-size="10.5" font-weight="bold" text-anchor="middle" textLength="19.50" lengthAdjust="spacingAndGlyphs"><tspan font-weight="normal" font-family="Liberation Serif" font-size="11.5">δ</tspan> (°)</text>
<text x="379.60" y="33.60" font-family="Liberation Serif" font-size="21" font-weight="normal" text-anchor="start" fill="#000" textLength="22.00" lengthAdjust="spacingAndGlyphs" >(b)</text>
<rect x="209.30" y="287.50" width="203.30" height="217.10" fill="none" stroke="#dddddd" stroke-width="1.15"/>
<line x1="202.70" y1="504.60" x2="209.30" y2="504.60" stroke="#dddddd" stroke-width="1.15" />
<line x1="205.90" y1="482.82" x2="209.30" y2="482.82" stroke="#dddddd" stroke-width="1.15" />
<line x1="205.90" y1="470.07" x2="209.30" y2="470.07" stroke="#dddddd" stroke-width="1.15" />
<line x1="205.90" y1="461.03" x2="209.30" y2="461.03" stroke="#dddddd" stroke-width="1.15" />
<line x1="205.90" y1="454.02" x2="209.30" y2="454.02" stroke="#dddddd" stroke-width="1.15" />
<line x1="205.90" y1="448.29" x2="209.30" y2="448.29" stroke="#dddddd" stroke-width="1.15" />
<line x1="205.90" y1="443.44" x2="209.30" y2="443.44" stroke="#dddddd" stroke-width="1.15" />
<line x1="205.90" y1="439.25" x2="209.30" y2="439.25" stroke="#dddddd" stroke-width="1.15" />
<line x1="205.90" y1="435.54" x2="209.30" y2="435.54" stroke="#dddddd" stroke-width="1.15" />
<line x1="202.70" y1="432.23" x2="209.30" y2="432.23" stroke="#dddddd" stroke-width="1.15" />
<line x1="205.90" y1="410.45" x2="209.30" y2="410.45" stroke="#dddddd" stroke-width="1.15" />
<line x1="205.90" y1="397.71" x2="209.30" y2="397.71" stroke="#dddddd" stroke-width="1.15" />
<line x1="205.90" y1="388.66" x2="209.30" y2="388.66" stroke="#dddddd" stroke-width="1.15" />
<line x1="205.90" y1="381.65" x2="209.30" y2="381.65" stroke="#dddddd" stroke-width="1.15" />
<line x1="205.90" y1="375.92" x2="209.30" y2="375.92" stroke="#dddddd" stroke-width="1.15" />
<line x1="205.90" y1="371.08" x2="209.30" y2="371.08" stroke="#dddddd" stroke-width="1.15" />
<line x1="205.90" y1="366.88" x2="209.30" y2="366.88" stroke="#dddddd" stroke-width="1.15" />
<line x1="205.90" y1="363.18" x2="209.30" y2="363.18" stroke="#dddddd" stroke-width="1.15" />
<line x1="202.70" y1="359.87" x2="209.30" y2="359.87" stroke="#dddddd" stroke-width="1.15" />
<line x1="205.90" y1="338.08" x2="209.30" y2="338.08" stroke="#dddddd" stroke-width="1.15" />
<line x1="205.90" y1="325.34" x2="209.30" y2="325.34" stroke="#dddddd" stroke-width="1.15" />
<line x1="205.90" y1="316.30" x2="209.30" y2="316.30" stroke="#dddddd" stroke-width="1.15" />
<line x1="205.90" y1="309.28" x2="209.30" y2="309.28" stroke="#dddddd" stroke-width="1.15" />
<line x1="205.90" y1="303.55" x2="209.30" y2="303.55" stroke="#dddddd" stroke-width="1.15" />
<line x1="205.90" y1="298.71" x2="209.30" y2="298.71" stroke="#dddddd" stroke-width="1.15" />
<line x1="205.90" y1="294.51" x2="209.30" y2="294.51" stroke="#dddddd" stroke-width="1.15" />
<line x1="205.90" y1="290.81" x2="209.30" y2="290.81" stroke="#dddddd" stroke-width="1.15" />
<line x1="202.70" y1="287.50" x2="209.30" y2="287.50" stroke="#dddddd" stroke-width="1.15" />
<line x1="412.60" y1="504.60" x2="419.20" y2="504.60" stroke="#dddddd" stroke-width="1.15" />
<line x1="412.60" y1="468.42" x2="416.00" y2="468.42" stroke="#dddddd" stroke-width="1.15" />
<line x1="412.60" y1="432.23" x2="419.20" y2="432.23" stroke="#dddddd" stroke-width="1.15" />
<line x1="412.60" y1="396.05" x2="416.00" y2="396.05" stroke="#dddddd" stroke-width="1.15" />
<line x1="412.60" y1="359.87" x2="419.20" y2="359.87" stroke="#dddddd" stroke-width="1.15" />
<line x1="412.60" y1="323.68" x2="416.00" y2="323.68" stroke="#dddddd" stroke-width="1.15" />
<line x1="412.60" y1="287.50" x2="419.20" y2="287.50" stroke="#dddddd" stroke-width="1.15" />
<line x1="209.30" y1="504.60" x2="209.30" y2="511.20" stroke="#dddddd" stroke-width="1.15" />
<line x1="229.63" y1="504.60" x2="229.63" y2="508.00" stroke="#dddddd" stroke-width="1.15" />
<line x1="249.96" y1="504.60" x2="249.96" y2="511.20" stroke="#dddddd" stroke-width="1.15" />
<line x1="270.29" y1="504.60" x2="270.29" y2="508.00" stroke="#dddddd" stroke-width="1.15" />
<line x1="290.62" y1="504.60" x2="290.62" y2="511.20" stroke="#dddddd" stroke-width="1.15" />
<line x1="310.95" y1="504.60" x2="310.95" y2="508.00" stroke="#dddddd" stroke-width="1.15" />
<line x1="331.28" y1="504.60" x2="331.28" y2="511.20" stroke="#dddddd" stroke-width="1.15" />
<line x1="351.61" y1="504.60" x2="351.61" y2="508.00" stroke="#dddddd" stroke-width="1.15" />
<line x1="371.94" y1="504.60" x2="371.94" y2="511.20" stroke="#dddddd" stroke-width="1.15" />
<line x1="392.27" y1="504.60" x2="392.27" y2="508.00" stroke="#dddddd" stroke-width="1.15" />
<line x1="412.60" y1="504.60" x2="412.60" y2="511.20" stroke="#dddddd" stroke-width="1.15" />
<path d="M233.70,387.20 L235.86,385.55 L238.02,383.90 L240.18,382.26 L242.34,380.63 L244.50,379.00 L246.67,377.39 L248.83,375.78 L250.99,374.18 L253.15,372.59 L255.31,371.02 L257.47,369.45 L259.64,367.89 L261.80,366.34 L263.96,364.80 L266.12,363.27 L268.28,361.75 L270.44,360.24 L272.61,358.75 L274.77,357.26 L276.93,355.79 L279.09,354.33 L281.25,352.88 L283.41,351.44 L285.58,350.02 L287.74,348.61 L289.90,347.21 L292.06,345.82 L294.22,344.45 L296.38,343.10 L298.55,341.75 L300.71,340.42 L302.87,339.11 L305.03,337.81 L307.19,336.52 L309.35,335.25 L311.52,334.00 L313.68,332.76 L315.84,331.53 L318.00,330.33 L320.16,329.13 L322.32,327.96 L324.49,326.80 L326.65,325.66 L328.81,324.54 L330.97,323.43 L333.13,322.34 L335.29,321.27 L337.46,320.22 L339.62,319.18 L341.78,318.17 L343.94,317.17 L346.10,316.19 L348.26,315.23 L350.43,314.29 L352.59,313.37 L354.75,312.47 L356.91,311.59 L359.07,310.73 L361.23,309.89 L363.40,309.08 L365.56,308.28 L367.72,307.50 L369.88,306.75 L372.04,306.02 L374.20,305.31 L376.37,304.62 L378.53,303.95 L380.69,303.31 L382.85,302.69 L385.01,302.09 L387.17,301.52 L389.34,300.97 L391.50,300.44 L393.66,299.94 L395.82,299.46 L397.98,299.01 L400.14,298.58 L402.31,298.18 L404.47,297.80" stroke="#ff0000" stroke-width="2" stroke-dasharray="3.6 2.9" fill="none"/>
<path d="M233.70,475.96 L235.86,474.54 L238.02,473.09 L240.18,471.62 L242.34,470.12 L244.50,468.60 L246.67,467.06 L248.83,465.50 L250.99,463.91 L253.15,462.31 L255.31,460.69 L257.47,459.05 L259.64,457.39 L261.80,455.72 L263.96,454.03 L266.12,452.33 L268.28,450.61 L270.44,448.88 L272.61,447.14 L274.77,445.39 L276.93,443.62 L279.09,441.85 L281.25,440.07 L283.41,438.28 L285.58,436.48 L287.74,434.67 L289.90,432.86 L292.06,431.04 L294.22,429.22 L296.38,427.40 L298.55,425.57 L300.71,423.74 L302.87,421.91 L305.03,420.08 L307.19,418.25 L309.35,416.43 L311.52,414.60 L313.68,412.78 L315.84,410.96 L318.00,409.14 L320.16,407.33 L322.32,405.53 L324.49,403.73 L326.65,401.95 L328.81,400.17 L330.97,398.40 L333.13,396.64 L335.29,394.89 L337.46,393.15 L339.62,391.43 L341.78,389.72 L343.94,388.02 L346.10,386.34 L348.26,384.67 L350.43,383.02 L352.59,381.39 L354.75,379.78 L356.91,378.18 L359.07,376.61 L361.23,375.05 L363.40,373.52 L365.56,372.01 L367.72,370.52 L369.88,369.06 L372.04,367.62 L374.20,366.21 L376.37,364.82 L378.53,363.46 L380.69,362.13 L382.85,360.83 L385.01,359.55 L387.17,358.31 L389.34,357.10 L391.50,355.92 L393.66,354.77 L395.82,353.66 L397.98,352.58 L400.14,351.53 L402.31,350.52 L404.47,349.55" stroke="#0000ff" stroke-width="2" stroke-dasharray="0.01 3.3" stroke-linecap="round" fill="none"/>
<path d="M233.70,484.44 L235.86,482.71 L238.02,480.97 L240.18,479.21 L242.34,477.44 L244.50,475.66 L246.67,473.86 L248.83,472.05 L250.99,470.23 L253.15,468.40 L255.31,466.55 L257.47,464.70 L259.64,462.84 L261.80,460.96 L263.96,459.08 L266.12,457.20 L268.28,455.30 L270.44,453.40 L272.61,451.49 L274.77,449.58 L276.93,447.66 L279.09,445.74 L281.25,443.82 L283.41,441.89 L285.58,439.96 L287.74,438.02 L289.90,436.09 L292.06,434.15 L294.22,432.22 L296.38,430.28 L298.55,428.35 L300.71,426.42 L302.87,424.49 L305.03,422.56 L307.19,420.64 L309.35,418.72 L311.52,416.80 L313.68,414.89 L315.84,412.98 L318.00,411.08 L320.16,409.19 L322.32,407.31 L324.49,405.43 L326.65,403.56 L328.81,401.70 L330.97,399.85 L333.13,398.01 L335.29,396.18 L337.46,394.36 L339.62,392.56 L341.78,390.76 L343.94,388.98 L346.10,387.22 L348.26,385.46 L350.43,383.73 L352.59,382.00 L354.75,380.30 L356.91,378.61 L359.07,376.94 L361.23,375.28 L363.40,373.64 L365.56,372.03 L367.72,370.43 L369.88,368.85 L372.04,367.29 L374.20,365.75 L376.37,364.24 L378.53,362.75 L380.69,361.28 L382.85,359.83 L385.01,358.41 L387.17,357.01 L389.34,355.64 L391.50,354.29 L393.66,352.97 L395.82,351.68 L397.98,350.41 L400.14,349.17 L402.31,347.97 L404.47,346.79" stroke="#00ff00" stroke-width="1.9" fill="none"/>
<path d="M233.70,324.10 L258.09,346.60 L282.49,371.20 L306.88,394.20 L331.28,415.50 L355.68,436.60 L380.07,456.10 L404.47,474.10" stroke="#ff0000" stroke-width="1.9" stroke-dasharray="3.6 2.9" fill="none"/>
<path d="M233.70,290.70 L258.09,309.10 L282.49,330.80 L306.88,352.30 L331.28,373.90 L355.68,394.00 L380.07,413.40 L404.47,432.00" stroke="#00ff00" stroke-width="1.1" stroke-dasharray="4 1.6 1 1.6" fill="none"/>
<path d="M233.70,296.40 L258.09,309.10 L282.49,330.80 L306.88,352.30 L331.28,373.90 L355.68,394.00 L380.07,413.40 L404.47,432.00" stroke="#0000ff" stroke-width="1.9" stroke-dasharray="0.01 3.3" stroke-linecap="round" fill="none"/>
<circle cx="233.70" cy="324.10" r="3.15" fill="none" stroke="#ff0000" stroke-width="1.2"/>
<circle cx="258.09" cy="346.60" r="3.15" fill="none" stroke="#ff0000" stroke-width="1.2"/>
<circle cx="282.49" cy="371.20" r="3.15" fill="none" stroke="#ff0000" stroke-width="1.2"/>
<circle cx="306.88" cy="394.20" r="3.15" fill="none" stroke="#ff0000" stroke-width="1.2"/>
<circle cx="331.28" cy="415.50" r="3.15" fill="none" stroke="#ff0000" stroke-width="1.2"/>
<circle cx="355.68" cy="436.60" r="3.15" fill="none" stroke="#ff0000" stroke-width="1.2"/>
<circle cx="380.07" cy="456.10" r="3.15" fill="none" stroke="#ff0000" stroke-width="1.2"/>
<circle cx="404.47" cy="474.10" r="3.15" fill="none" stroke="#ff0000" stroke-width="1.2"/>
<rect x="230.70" y="293.40" width="6.0" height="6.0" fill="none" stroke="#0000ff" stroke-width="1.3"/>
<rect x="255.09" y="306.10" width="6.0" height="6.0" fill="none" stroke="#0000ff" stroke-width="1.3"/>
<rect x="279.49" y="327.80" width="6.0" height="6.0" fill="none" stroke="#0000ff" stroke-width="1.3"/>
<rect x="303.88" y="349.30" width="6.0" height="6.0" fill="none" stroke="#0000ff" stroke-width="1.3"/>
<rect x="328.28" y="370.90" width="6.0" height="6.0" fill="none" stroke="#0000ff" stroke-width="1.3"/>
<rect x="352.68" y="391.00" width="6.0" height="6.0" fill="none" stroke="#0000ff" stroke-width="1.3"/>
<rect x="377.07" y="410.40" width="6.0" height="6.0" fill="none" stroke="#0000ff" stroke-width="1.3"/>
<rect x="401.47" y="429.00" width="6.0" height="6.0" fill="none" stroke="#0000ff" stroke-width="1.3"/>
<path d="M233.70,287.70 L237.20,293.70 L230.20,293.70 Z" fill="none" stroke="#00ff00" stroke-width="1.0"/>
<path d="M258.09,306.10 L261.59,312.10 L254.59,312.10 Z" fill="none" stroke="#00ff00" stroke-width="1.0"/>
<path d="M282.49,327.80 L285.99,333.80 L278.99,333.80 Z" fill="none" stroke="#00ff00" stroke-width="1.0"/>
<path d="M306.88,349.30 L310.38,355.30 L303.38,355.30 Z" fill="none" stroke="#00ff00" stroke-width="1.0"/>
<path d="M331.28,370.90 L334.78,376.90 L327.78,376.90 Z" fill="none" stroke="#00ff00" stroke-width="1.0"/>
<path d="M355.68,391.00 L359.18,397.00 L352.18,397.00 Z" fill="none" stroke="#00ff00" stroke-width="1.0"/>
<path d="M380.07,410.40 L383.57,416.40 L376.57,416.40 Z" fill="none" stroke="#00ff00" stroke-width="1.0"/>
<path d="M404.47,429.00 L407.97,435.00 L400.97,435.00 Z" fill="none" stroke="#00ff00" stroke-width="1.0"/>
<text x="294.80" y="449.90" font-family="Liberation Sans" font-size="10.3" font-weight="bold" text-anchor="start" fill="#000" stroke="#000" stroke-width="0.15" textLength="56.00" lengthAdjust="spacingAndGlyphs" >70# asphalt</text>
<line x1="290.20" y1="456.90" x2="324.00" y2="456.90" stroke="#ff0000" stroke-width="1.7" stroke-dasharray="3.4 3.75" stroke-dashoffset="-0.90"/>
<circle cx="292.80" cy="456.90" r="2.6" fill="none" stroke="#ff0000" stroke-width="0.8"/>
<circle cx="307.10" cy="456.90" r="2.6" fill="none" stroke="#ff0000" stroke-width="0.8"/>
<circle cx="322.00" cy="456.90" r="2.6" fill="none" stroke="#ff0000" stroke-width="0.8"/>
<text x="326.60" y="458.60" font-family="Liberation Sans" font-size="4.7" font-weight="bold" text-anchor="start" fill="#000" stroke="#000" stroke-width="0.12" >Virgin G*</text>
<line x1="290.80" y1="465.50" x2="324.00" y2="465.50" stroke="#0000ff" stroke-width="1.7" stroke-linecap="round" stroke-dasharray="0.01 3.57" stroke-dashoffset="1.57"/>
<rect x="290.10" y="462.80" width="5.4" height="5.4" fill="none" stroke="#0000ff" stroke-width="0.75"/>
<rect x="304.40" y="462.80" width="5.4" height="5.4" fill="none" stroke="#0000ff" stroke-width="0.75"/>
<rect x="319.30" y="462.80" width="5.4" height="5.4" fill="none" stroke="#0000ff" stroke-width="0.75"/>
<text x="326.60" y="467.20" font-family="Liberation Sans" font-size="4.7" font-weight="bold" text-anchor="start" fill="#000" stroke="#000" stroke-width="0.12" >UV aged G*</text>
<line x1="290.20" y1="473.50" x2="324.00" y2="473.50" stroke="#00ff00" stroke-width="1.0" stroke-dasharray="2.6 1.6 1 1.95" stroke-dashoffset="-4.50"/>
<path d="M292.80,470.90 L296.10,476.10 L289.50,476.10 Z" fill="none" stroke="#00ff00" stroke-width="0.75"/>
<path d="M307.10,470.90 L310.40,476.10 L303.80,476.10 Z" fill="none" stroke="#00ff00" stroke-width="0.75"/>
<path d="M322.00,470.90 L325.30,476.10 L318.70,476.10 Z" fill="none" stroke="#00ff00" stroke-width="0.75"/>
<text x="326.60" y="475.20" font-family="Liberation Sans" font-size="4.7" font-weight="bold" text-anchor="start" fill="#000" stroke="#000" stroke-width="0.12" >PAV aged G*</text>
<line x1="290.20" y1="481.40" x2="323.00" y2="481.40" stroke="#ff0000" stroke-width="1.7" stroke-dasharray="3.8 3.2"/>
<text x="326.60" y="483.10" font-family="Liberation Sans" font-size="4.7" font-weight="bold" stroke="#000" stroke-width="0.12">Virgin <tspan font-weight="normal" fill="#444" stroke="none">δ</tspan></text>
<line x1="291.00" y1="489.40" x2="324.00" y2="489.40" stroke="#0000ff" stroke-width="1.7" stroke-linecap="round" stroke-dasharray="0.01 3.5"/>
<text x="326.60" y="491.10" font-family="Liberation Sans" font-size="4.7" font-weight="bold" stroke="#000" stroke-width="0.12">UV aged  <tspan font-weight="normal" fill="#444" stroke="none">δ</tspan></text>
<line x1="290.20" y1="497.40" x2="324.00" y2="497.40" stroke="#00ff00" stroke-width="1.8"/>
<text x="326.60" y="499.10" font-family="Liberation Sans" font-size="4.7" font-weight="bold" stroke="#000" stroke-width="0.12">PAV aged  <tspan font-weight="normal" fill="#444" stroke="none">δ</tspan></text>
<text x="199.00" y="507.60" font-family="Liberation Sans" font-size="8.4" font-weight="bold" text-anchor="end" fill="#000" stroke="#000" stroke-width="0.25" textLength="17.20" lengthAdjust="spacingAndGlyphs" >1E+2</text>
<text x="199.00" y="435.23" font-family="Liberation Sans" font-size="8.4" font-weight="bold" text-anchor="end" fill="#000" stroke="#000" stroke-width="0.25" textLength="17.20" lengthAdjust="spacingAndGlyphs" >1E+3</text>
<text x="199.00" y="362.87" font-family="Liberation Sans" font-size="8.4" font-weight="bold" text-anchor="end" fill="#000" stroke="#000" stroke-width="0.25" textLength="17.20" lengthAdjust="spacingAndGlyphs" >1E+4</text>
<text x="199.00" y="290.50" font-family="Liberation Sans" font-size="8.4" font-weight="bold" text-anchor="end" fill="#000" stroke="#000" stroke-width="0.25" textLength="17.20" lengthAdjust="spacingAndGlyphs" >1E+5</text>
<text x="422.90" y="507.60" font-family="Liberation Sans" font-size="8.4" font-weight="bold" text-anchor="start" fill="#000" stroke="#000" stroke-width="0.25" textLength="7.80" lengthAdjust="spacingAndGlyphs" >60</text>
<text x="422.90" y="435.23" font-family="Liberation Sans" font-size="8.4" font-weight="bold" text-anchor="start" fill="#000" stroke="#000" stroke-width="0.25" textLength="7.80" lengthAdjust="spacingAndGlyphs" >70</text>
<text x="422.90" y="362.87" font-family="Liberation Sans" font-size="8.4" font-weight="bold" text-anchor="start" fill="#000" stroke="#000" stroke-width="0.25" textLength="7.80" lengthAdjust="spacingAndGlyphs" >80</text>
<text x="422.90" y="290.50" font-family="Liberation Sans" font-size="8.4" font-weight="bold" text-anchor="start" fill="#000" stroke="#000" stroke-width="0.25" textLength="7.80" lengthAdjust="spacingAndGlyphs" >90</text>
<text x="209.30" y="522.70" font-family="Liberation Sans" font-size="8.4" font-weight="bold" text-anchor="middle" fill="#000" stroke="#000" stroke-width="0.25" textLength="7.60" lengthAdjust="spacingAndGlyphs" >40</text>
<text x="249.96" y="522.70" font-family="Liberation Sans" font-size="8.4" font-weight="bold" text-anchor="middle" fill="#000" stroke="#000" stroke-width="0.25" textLength="7.60" lengthAdjust="spacingAndGlyphs" >50</text>
<text x="290.62" y="522.70" font-family="Liberation Sans" font-size="8.4" font-weight="bold" text-anchor="middle" fill="#000" stroke="#000" stroke-width="0.25" textLength="7.60" lengthAdjust="spacingAndGlyphs" >60</text>
<text x="331.28" y="522.70" font-family="Liberation Sans" font-size="8.4" font-weight="bold" text-anchor="middle" fill="#000" stroke="#000" stroke-width="0.25" textLength="7.60" lengthAdjust="spacingAndGlyphs" >70</text>
<text x="371.94" y="522.70" font-family="Liberation Sans" font-size="8.4" font-weight="bold" text-anchor="middle" fill="#000" stroke="#000" stroke-width="0.25" textLength="7.60" lengthAdjust="spacingAndGlyphs" >80</text>
<text x="412.60" y="522.70" font-family="Liberation Sans" font-size="8.4" font-weight="bold" text-anchor="middle" fill="#000" stroke="#000" stroke-width="0.25" textLength="7.60" lengthAdjust="spacingAndGlyphs" >90</text>
<text x="310.95" y="534.40" font-family="Liberation Sans" font-size="10.4" font-weight="bold" text-anchor="middle" fill="#000" textLength="81.80" lengthAdjust="spacingAndGlyphs" >Temperature (°C)</text>
<text transform="translate(177.90,396.00) rotate(-90)" x="0" y="0" font-family="Liberation Sans" font-size="10.5" font-weight="bold" text-anchor="middle" textLength="34.10" lengthAdjust="spacingAndGlyphs">G' (Pa)</text>
<text transform="translate(443.40,396.00) rotate(-90)" x="0" y="0" font-family="Liberation Sans" font-size="10.5" font-weight="bold" text-anchor="middle" textLength="19.50" lengthAdjust="spacingAndGlyphs"><tspan font-weight="normal" font-family="Liberation Serif" font-size="11.5">δ</tspan> (°)</text>
<text x="373.60" y="331.90" font-family="Liberation Serif" font-size="21" font-weight="normal" text-anchor="start" fill="#000" textLength="20.30" lengthAdjust="spacingAndGlyphs" >(c)</text>
</svg>
</body></html>
